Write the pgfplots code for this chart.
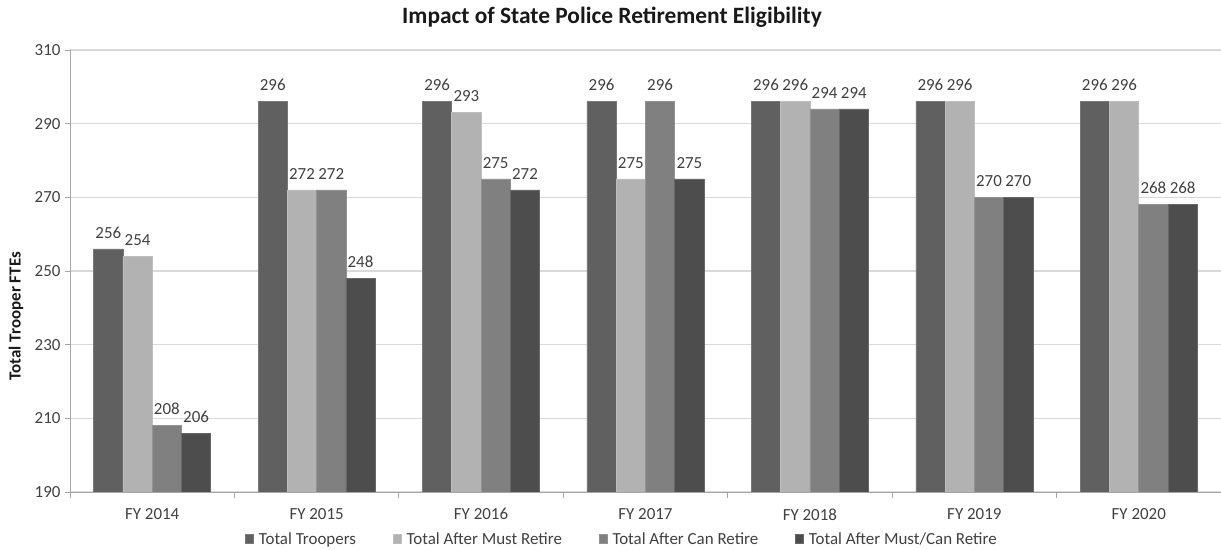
\documentclass[border=0pt]{standalone}
\usepackage{fontspec}
\setmainfont{Carlito}
\usepackage{pgfplots}
\pgfplotsset{compat=1.18}

\definecolor{cTroopers}{HTML}{606060}
\definecolor{cMust}{HTML}{B2B2B2}
\definecolor{cCan}{HTML}{808080}
\definecolor{cMustCan}{HTML}{4D4D4D}
\definecolor{gridgray}{HTML}{D9D9D9}
\definecolor{axisgray}{HTML}{A6A6A6}
\definecolor{txt}{HTML}{404040}

\newcommand{\chartfont}{\fontsize{17}{20}\selectfont}

\begin{document}
\begin{tikzpicture}
\path[use as bounding box] (0,0) rectangle (1221bp,550bp);
\begin{axis}[
  at={(70bp,58bp)}, anchor=south west,
  scale only axis,
  width=1151bp, height=442bp,
  ymin=190, ymax=310,
  ytick={190,210,...,310},
  xmin=-0.5, xmax=6.5,
  xtick={0,...,6},
  xticklabels={FY 2014,FY 2015,FY 2016,FY 2017,FY 2018,FY 2019,FY 2020},
  minor xtick={-0.5,0.5,...,6.5},
  every major x tick/.append style={draw=none},
  tick align=outside,
  major tick length=5bp,
  minor tick length=6bp,
  tick style={axisgray, line width=0.8pt},
  axis x line*=bottom,
  axis y line*=left,
  axis line style={-, axisgray, line width=0.9pt},
  ymajorgrids,
  grid style={gridgray, line width=1.2pt},
  tick label style={font=\chartfont, text=txt},
  /pgf/number format/assume math mode=true,
  yticklabel style={xshift=-1bp},
  xticklabel style={yshift=-8bp},
  ybar=0pt,
  bar width=0.178,
  nodes near coords,
  every node near coord/.append style={font=\chartfont, text=txt, yshift=7bp},
  legend columns=4,
  legend style={
    at={(0.4796,-0.1063)}, anchor=center,
    draw=none, fill=none,
    font=\chartfont, text=txt,
    /tikz/every odd column/.append style={column sep=3bp},
    /tikz/every even column/.append style={column sep=35bp},
  },
  legend image code/.code={\path[#1] (0bp,-4.5bp) rectangle (8bp,4.5bp);},
]
\addplot[fill=cTroopers, draw=cTroopers!85!white, line width=0.6pt]
  coordinates {(0,256) (1,296) (2,296) (3,296) (4,296) (5,296) (6,296)};
\addplot[fill=cMust, draw=cMust!85!white, line width=0.6pt]
  coordinates {(0,254) (1,272) (2,293) (3,275) (4,296) (5,296) (6,296)};
\addplot[fill=cCan, draw=cCan!85!white, line width=0.6pt]
  coordinates {(0,208) (1,272) (2,275) (3,296) (4,294) (5,270) (6,268)};
\addplot[fill=cMustCan, draw=cMustCan!85!white, line width=0.6pt]
  coordinates {(0,206) (1,248) (2,272) (3,275) (4,294) (5,270) (6,268)};
\legend{Total Troopers, Total After Must Retire, Total After Can Retire, Total After Must/Can Retire}
\end{axis}
\node[font=\fontsize{23.5}{28}\selectfont\bfseries, text=black!90] at (612bp,533bp)
  {Impact of State Police Retirement Eligibility};
\node[rotate=90, font=\fontsize{17}{20}\selectfont\bfseries, text=black!90] at (16bp,234bp)
  {Total Trooper FTEs};
\end{tikzpicture}
\end{document}
